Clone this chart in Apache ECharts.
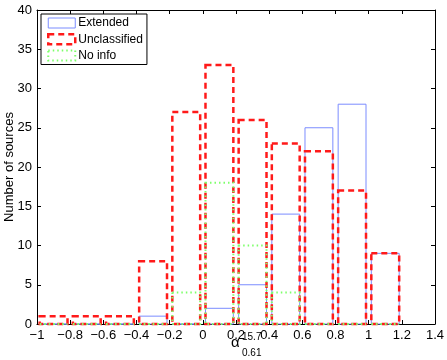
<!DOCTYPE html>
<html>
<head>
<meta charset="utf-8">
<script src="https://cdn.jsdelivr.net/npm/echarts@6/dist/echarts.min.js"></script>
<style>
  html, body { margin: 0; padding: 0; background: #fff; }
  #chart { width: 447px; height: 360px; }
</style>
</head>
<body>
<div id="chart"></div>
<script>
// bin centres (width 0.2) and counts per class
const binCenters = [-0.9, -0.7, -0.5, -0.3, -0.1, 0.1, 0.3, 0.5, 0.7, 0.9, 1.1];
const extended = [0, 0, 0, 1, 0, 2, 5, 14, 25, 28, 9];
const unclassified = [1, 1, 1, 8, 27, 33, 26, 23, 22, 17, 9];
const noInfo = [0, 0, 0, 0, 4, 18, 10, 4, 0, 0, 0];
const yTicks = [0, 5, 10, 15, 20, 25, 30, 35, 40];

const halfW = 0.084;
const font = 'Liberation Sans, Arial, Helvetica, sans-serif';

const styles = {
    Extended: { stroke: '#7b8cff', lineWidth: 1, lineDash: null },
    Unclassified: { stroke: '#ff1a1a', lineWidth: 2.5, lineDash: [6, 4] },
    'No info': { stroke: '#7dff6a', lineWidth: 2, lineDash: [1.5, 3] }
};

function makeRender(name) {
    const s = styles[name];
    return function (params, api) {
        const x = api.value(0), y = api.value(1);
        const p0 = api.coord([x - halfW, 0]);
        const p1 = api.coord([x + halfW, y]);
        return {
            type: 'rect',
            shape: { x: p0[0], y: p1[1], width: p1[0] - p0[0], height: p0[1] - p1[1] },
            style: { fill: 'transparent', stroke: s.stroke, lineWidth: s.lineWidth, lineDash: s.lineDash }
        };
    };
}

function series(name, values) {
    const s = styles[name];
    return {
        name: name,
        type: 'custom',
        xAxisIndex: 0,
        yAxisIndex: 0,
        renderItem: makeRender(name),
        itemStyle: { color: 'transparent', borderColor: s.stroke, borderWidth: s.lineWidth, borderType: s.lineDash || 'solid' },
        data: binCenters.map((c, i) => [c, values[i]]),
        silent: true
    };
}

function fmtX(v) {
    return String(Math.round(v * 10) / 10).replace('-', '\u2212');
}

const chart = echarts.init(document.getElementById('chart'));
const axisLine = { show: true, onZero: false, lineStyle: { color: '#000', width: 1 } };
const tickIn = { show: true, inside: true, length: 4, lineStyle: { color: '#000' } };

chart.setOption({
    animation: false,
    backgroundColor: '#fff',
    grid: { left: 37, right: 12, top: 10, bottom: 36, containLabel: false, outerBoundsMode: 'none' },
    legend: {
        orient: 'vertical',
        left: 41,
        top: 14,
        padding: [3, 4, 3, 6],
        itemGap: 4,
        itemWidth: 27,
        itemHeight: 10,
        borderColor: '#000',
        borderWidth: 1,
        borderRadius: 0,
        backgroundColor: '#fff',
        textStyle: { fontFamily: font, fontSize: 12, color: '#000', padding: [0, 0, 0, -2] },
        data: Object.keys(styles).map(n => ({
            name: n,
            icon: 'rect',
            itemStyle: {
                color: 'transparent',
                borderColor: styles[n].stroke,
                borderWidth: styles[n].lineWidth,
                borderType: styles[n].lineDash || 'solid'
            }
        }))
    },
    xAxis: [{
        type: 'value', min: -1, max: 1.4, interval: 0.2,
        axisLine: axisLine, axisTick: tickIn, splitLine: { show: false },
        axisLabel: { fontFamily: font, fontSize: 13, color: '#000', margin: 5, formatter: fmtX }
    }, {
        type: 'value', position: 'top', min: -1, max: 1.4, interval: 0.2,
        axisLine: axisLine, axisTick: tickIn, splitLine: { show: false },
        axisLabel: { show: false }
    }],
    yAxis: [{
        type: 'value', min: yTicks[0], max: yTicks[yTicks.length - 1], interval: 5,
        name: 'Number of sources', nameLocation: 'middle', nameGap: 21, nameMoveOverlap: false,
        nameTextStyle: { fontFamily: font, fontSize: 13, color: '#000' },
        axisLine: axisLine, axisTick: tickIn, splitLine: { show: false },
        axisLabel: { fontFamily: font, fontSize: 13, color: '#000', margin: 5 }
    }, {
        type: 'value', position: 'right', min: yTicks[0], max: yTicks[yTicks.length - 1], interval: 5,
        axisLine: axisLine, axisTick: tickIn, splitLine: { show: false },
        axisLabel: { show: false }
    }],
    graphic: [
        { type: 'text', left: 231, top: 335, style: { text: '\u03b1', font: '15px ' + font, fill: '#000' } },
        { type: 'text', left: 242, top: 332, style: { text: '15.7', font: '10px ' + font, fill: '#000' } },
        { type: 'text', left: 242, top: 348, style: { text: '0.61', font: '10px ' + font, fill: '#000' } }
    ],
    series: [
        series('Extended', extended),
        series('Unclassified', unclassified),
        series('No info', noInfo)
    ]
});
</script>
</body>
</html>
